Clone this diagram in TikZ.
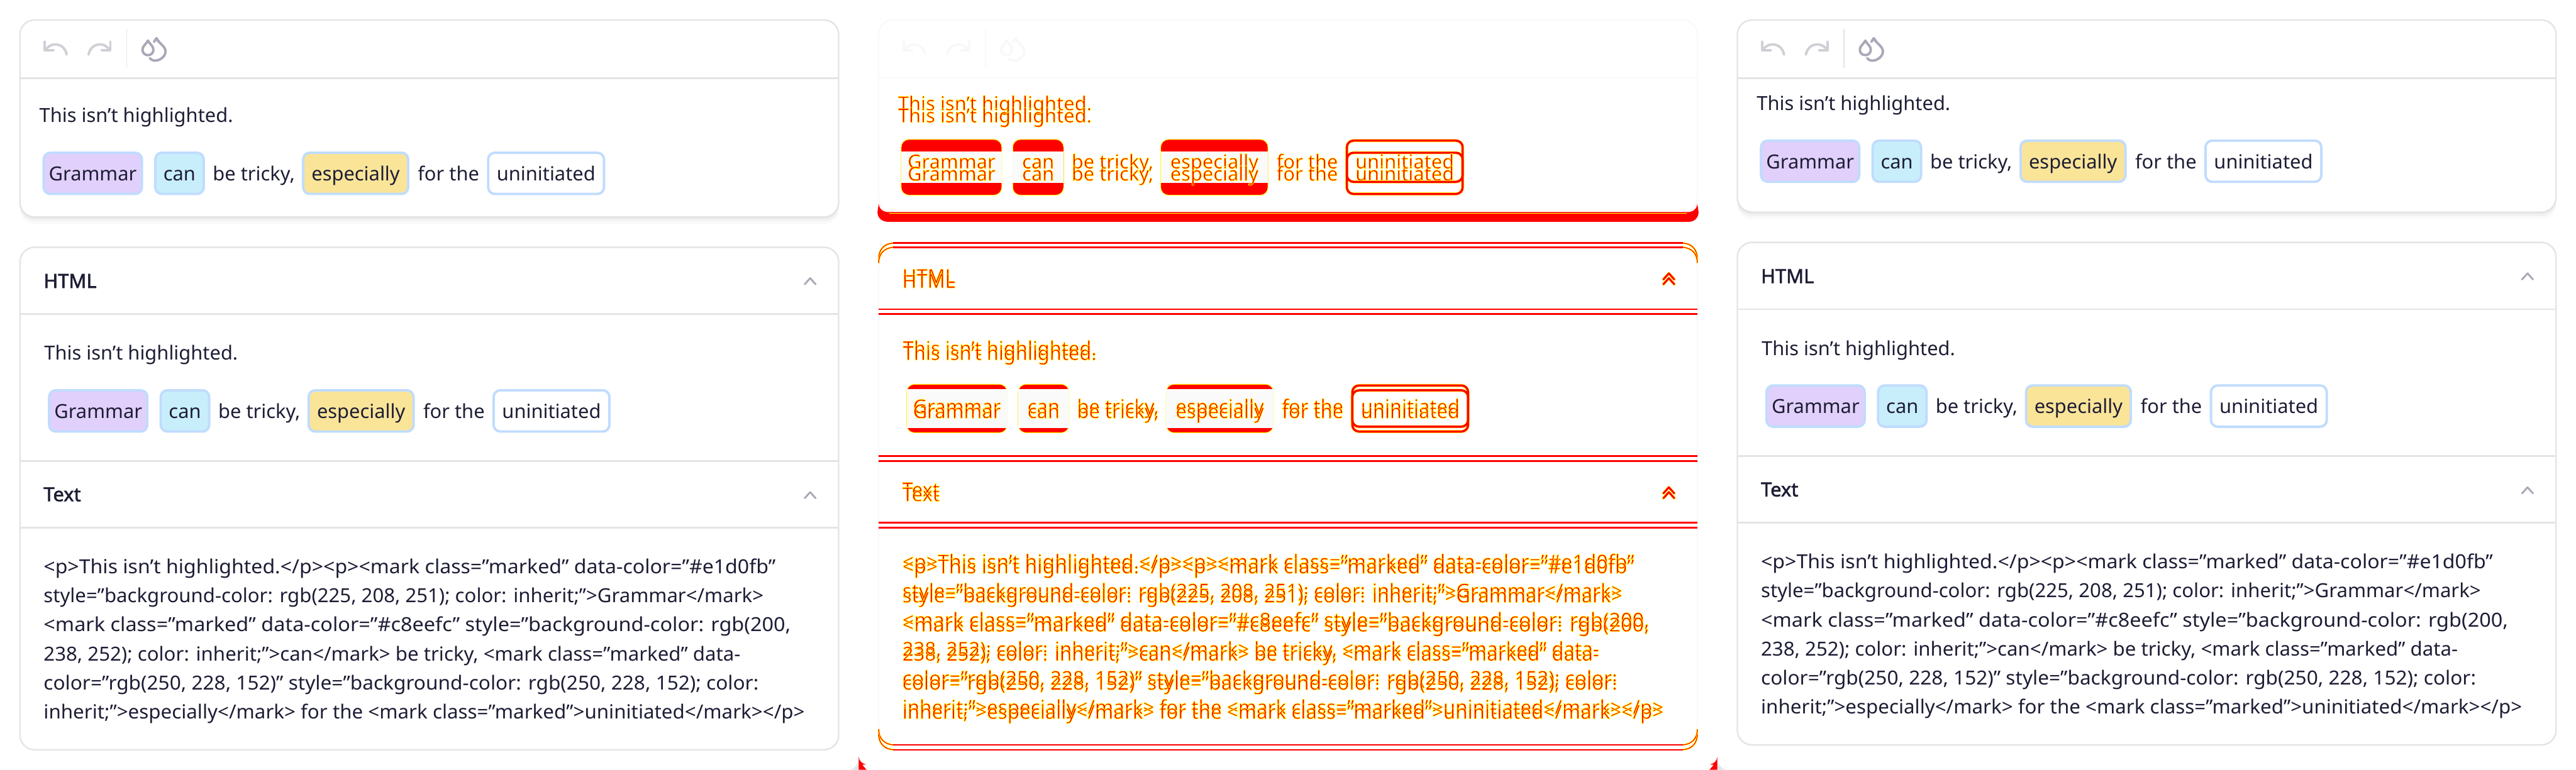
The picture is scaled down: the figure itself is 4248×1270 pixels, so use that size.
\documentclass[tikz,border=0pt]{standalone}
\usepackage{fontspec}
\setmainfont{Noto Sans}
\newfontfamily\headfont[FakeBold=2]{Noto Sans}
\usepackage{xcolor}
\usepackage{graphicx}

\definecolor{inkdark}{HTML}{1D1D35}
\definecolor{cardline}{HTML}{E4E4E6}
\definecolor{markedge}{HTML}{C0DCFE}
\definecolor{markpurple}{HTML}{E1D0FB}
\definecolor{markblue}{HTML}{C8EEFC}
\definecolor{markyellow}{HTML}{FAE498}
\definecolor{iconpale}{HTML}{CFCFD6}
\definecolor{icongrey}{HTML}{A9A8B6}
\definecolor{diffgrey}{HTML}{F8F8F8}
\definecolor{diffred}{HTML}{FF0000}
\definecolor{diffyellow}{HTML}{FFFF00}

\tikzset{
    every node/.style={font=\fontsize{16pt}{24pt}\selectfont, inner sep=0pt, outer sep=0pt},
    plainword/.style={anchor=base west, text=inkdark},
    headword/.style={anchor=base west, text=inkdark, font=\fontsize{16pt}{24pt}\headfont},
    markbox/.style={draw=markedge, line width=2pt, rounded corners=5.5pt, minimum height=34pt,
        text=inkdark, text height=14pt, text depth=2pt},
    cardedge/.style={draw=cardline, line width=1.25pt},
    cardrule/.style={cardline, line width=1.25pt},
    iconline/.style={line width=2pt, line cap=round, line join=round},
    diffword/.style={anchor=base west,
        execute at begin node={\color{diffred}\special{pdf:code 2 Tr 1 1 0 RG 0.42 w}},
        execute at end node={\special{pdf:code 0 Tr}}},
    diffmid/.style={diffword, anchor=base},
    diffhead/.style={diffword, font=\fontsize{16pt}{24pt}\selectfont},
    diffrule/.style={diffred, line width=1.25pt},
    diffchevron/.style={diffred, line width=1.6pt, line cap=round, line join=round},
}

% the six code lines, each set to its measured width
\newcommand{\codelinea}{\resizebox{603.5pt}{\height}{<p>This isn’t highlighted.</p><p><mark class="marked" data-color="\#e1d0fb"}}
\newcommand{\codelineb}{\resizebox{593.5pt}{\height}{style="background-color: rgb(225, 208, 251); color: inherit;">Grammar</mark>}}
\newcommand{\codelinec}{\resizebox{616pt}{\height}{<mark class="marked" data-color="\#c8eefc" style="background-color: rgb(200,}}
\newcommand{\codelined}{\resizebox{574.5pt}{\height}{238, 252); color: inherit;">can</mark> be tricky, <mark class="marked" data-}}
\newcommand{\codelinee}{\resizebox{589.5pt}{\height}{color="rgb(250, 228, 152)" style="background-color: rgb(250, 228, 152); color:}}
\newcommand{\codelinef}{\resizebox{627.5pt}{\height}{inherit;">especially</mark> for the <mark class="marked">uninitiated</mark></p>}}

% toolbar: x shift, undo colour, drop colour, bar colour
\newcommand{\toolicons}[4]{
    \begin{scope}[shift={(#1,0)}]
        \draw[iconline, #2] (74,69) -- (74,83) -- (88,83);
        \draw[iconline, #2] (75,83) .. controls (83,68) and (106,70) .. (110,90);
        \draw[iconline, #2] (182,69) -- (182,83) -- (168,83);
        \draw[iconline, #2] (181,83) .. controls (173,68) and (150,70) .. (146,90);
        \draw[#4, line width=1pt] (209,48) -- (209,112);
        \draw[iconline, #3] (244,67) .. controls (240,74) and (235,76) .. (235,82)
            .. controls (235,94) and (253,94) .. (253,82)
            .. controls (253,76) and (248,74) .. (244,67) -- cycle;
        \draw[iconline, #3] (258,63) .. controls (262,72) and (273,76) .. (273,85)
            .. controls (273,96) and (255,106) .. (247,96);
        \draw[iconline, #3] (254,69) -- (258,63) -- (262,69);
    \end{scope}
}

% one row of marked words at x shift and y shift
\newcommand{\markrow}[3]{
    \begin{scope}[shift={(#2,#3)}]
        \node[markbox, fill=markpurple, minimum width=81pt] (#1gram) at (153,286) {Grammar};
        \node[markbox, fill=markblue, minimum width=40pt] (#1can) at (296,286) {can};
        \node[plainword] (#1tricky) at (351,298) {be tricky,};
        \node[markbox, fill=markyellow, minimum width=86.5pt] (#1espec) at (586.5,286) {especially};
        \node[plainword] (#1forthe) at (689,298) {for the};
        \node[markbox, fill=white, minimum width=95.5pt] (#1unin) at (900.5,286) {uninitiated};
    \end{scope}
}

% whole column: prefix, x shift, first row shift, second card shift
\newcommand{\editorcolumn}[4]{
    \begin{scope}[shift={(#2,0)}]
        % Shadow
        \fill[black, opacity=0.02, rounded corners=12pt] (33,40) rectangle (1383,{370+#4});
        \fill[black, opacity=0.03, rounded corners=12pt] (33,40) rectangle (1383,{365+#4});
        \fill[black, opacity=0.04, rounded corners=12pt] (33,40) rectangle (1383,{361+#4});

        % Editor card
        \draw[cardedge, fill=white, rounded corners=12pt] (33,33) rectangle (1383,{358+#4});
        \draw[cardrule] (33,129) -- (1383,129);
        \node[plainword] (#1intro) at (65,{202+#3}) {This isn’t highlighted.};

        % Output card
        \draw[cardedge, fill=white, rounded corners=12pt] (33,{408+#4}) rectangle (1383,{1237+#4});
        \draw[cardrule] (33,{518+#4}) -- (1383,{518+#4});
        \draw[cardrule] (33,{760.5+#4}) -- (1383,{760.5+#4});
        \draw[cardrule] (33,{870.5+#4}) -- (1383,{870.5+#4});
        \node[headword] (#1html) at (72,{475+#4}) {HTML};
        \node[plainword] (#1introb) at (73,{594+#4}) {This isn’t highlighted.};
        \node[headword] (#1text) at (72,{827+#4}) {Text};

        % Chevrons
        \draw[icongrey, iconline, line width=1.5pt] (1327,{469+#4}) -- (1336,{459+#4}) -- (1345,{469+#4});
        \draw[icongrey, iconline, line width=1.5pt] (1327,{822+#4}) -- (1336,{812+#4}) -- (1345,{822+#4});

        % Code lines
        \node[plainword] (#1codea) at (72,{946+#4}) {\codelinea};
        \node[plainword] (#1codeb) at (72,{994+#4}) {\codelineb};
        \node[plainword] (#1codec) at (72,{1042+#4}) {\codelinec};
        \node[plainword] (#1coded) at (72,{1090+#4}) {\codelined};
        \node[plainword] (#1codee) at (72,{1138+#4}) {\codelinee};
        \node[plainword] (#1codef) at (72,{1186+#4}) {\codelinef};
    \end{scope}
    \toolicons{#2}{iconpale}{icongrey}{cardline}
    \markrow{#1rowa}{#2}{#3}
    \markrow{#1rowb}{#2+9}{392+#4}
}

% diff of one mark: x from, x to, upper top, gap
\newcommand{\diffmark}[4]{
    \fill[diffred, rounded corners=6.5pt] (#1,#3) rectangle (#2,{#3+72+#4});
    \draw[diffyellow, line width=0.5pt, rounded corners=6.5pt] (#1,#3) rectangle (#2,{#3+72+#4});
    \fill[white!98!black] (#1,{#3+#4}) rectangle (#2,{#3+72});
}
\newcommand{\diffbox}[4]{
    \draw[diffyellow, line width=2.4pt, rounded corners=5.5pt] ({#1+2},{#3+2}) rectangle ({#2-2},{#3+70});
    \draw[diffyellow, line width=2.4pt, rounded corners=5.5pt] ({#1+2},{#3+#4+2}) rectangle ({#2-2},{#3+#4+70});
    \draw[diffred, line width=1.8pt, rounded corners=5.5pt] ({#1+2},{#3+2}) rectangle ({#2-2},{#3+70});
    \draw[diffred, line width=1.8pt, rounded corners=5.5pt] ({#1+2},{#3+#4+2}) rectangle ({#2-2},{#3+#4+70});
}
\newcommand{\diffmarks}[3]{
    \begin{scope}[shift={(#1,0)}]
        \diffmark{1486}{1652}{#2}{#3}
        \diffmark{1670}{1754}{#2}{#3}
        \diffmark{1914}{2091}{#2}{#3}
        \diffbox{2219}{2414}{#2}{#3}
    \end{scope}
}
% the words of one row in the diff
\newcommand{\diffwords}[3]{
    \node[diffmid] (#1gram) at ({1416+153+#2},#3) {Grammar};
    \node[diffmid] (#1can) at ({1416+296+#2},#3) {can};
    \node[diffword] (#1tricky) at ({1416+351+#2},#3) {be tricky,};
    \node[diffmid] (#1espec) at ({1416+586.5+#2},#3) {especially};
    \node[diffword] (#1forthe) at ({1416+689+#2},#3) {for the};
    \node[diffmid] (#1unin) at ({1416+900.5+#2},#3) {uninitiated};
}
% code lines in the diff
\newcommand{\diffcode}[2]{
    \node[diffword] (#1codea) at (1488,{946+#2}) {\codelinea};
    \node[diffword] (#1codeb) at (1488,{994+#2}) {\codelineb};
    \node[diffword] (#1codec) at (1488,{1042+#2}) {\codelinec};
    \node[diffword] (#1coded) at (1488,{1090+#2}) {\codelined};
    \node[diffword] (#1codee) at (1488,{1138+#2}) {\codelinee};
    \node[diffword] (#1codef) at (1488,{1186+#2}) {\codelinef};
}
% rounded cap of a card in the diff: y of straight part, direction
\newcommand{\diffcap}[2]{
    \draw[diffyellow, line width=1.4pt] (1449,{#1+#2*26}) .. controls (1449,{#1+#2*10}) and (1459,#1) .. (1475,#1);
    \draw[diffyellow, line width=1.4pt] (2799,{#1+#2*26}) .. controls (2799,{#1+#2*10}) and (2789,#1) .. (2773,#1);
    \draw[diffred, line width=0.6pt] (1449,{#1+#2*26}) .. controls (1449,{#1+#2*10}) and (1459,#1) .. (1475,#1);
    \draw[diffred, line width=0.6pt] (2799,{#1+#2*26}) .. controls (2799,{#1+#2*10}) and (2789,#1) .. (2773,#1);
    \draw[diffrule] (1473,#1) -- (2775,#1);
}

\begin{document}
\begin{tikzpicture}[x=0.5pt, y=-0.5pt]
    \useasboundingbox (0,0) rectangle (4248,1270);

    % Left and right columns
    \editorcolumn{left}{0}{0}{0}
    \editorcolumn{right}{2832}{-20}{-8}

    % Diff column: what stayed the same
    \draw[diffgrey, line width=1pt, rounded corners=12pt] (1449,33) rectangle (2799,350);
    \draw[diffgrey, line width=1pt] (1449,129) -- (2799,129);
    \draw[diffgrey, line width=1pt] (1449,430) -- (1449,1200);
    \draw[diffgrey, line width=1pt] (2799,430) -- (2799,1200);
    \toolicons{1416}{diffgrey}{diffgrey}{diffgrey}

    % Diff column: bottom of the editor card
    \fill[diffred] (1449,336) .. controls (1450,345) and (1456,350) .. (1466,350) -- (2782,350)
        .. controls (2792,350) and (2798,345) .. (2799,336) -- (2801,350)
        .. controls (2801,360) and (2793,366) .. (2785,366) -- (1465,366)
        .. controls (1455,366) and (1447,360) .. (1447,350) -- cycle;
    \draw[diffyellow, line width=0.6pt] (1466,352) -- (2782,352);

    % Diff column: card edges
    \diffcap{401}{1}
    \diffcap{408}{1}
    \diffcap{1229}{-1}
    \diffcap{1237}{-1}
    \draw[diffrule] (1449,510) -- (2799,510);
    \draw[diffrule] (1449,518) -- (2799,518);
    \draw[diffrule] (1449,752.5) -- (2799,752.5);
    \draw[diffrule] (1449,760.5) -- (2799,760.5);
    \draw[diffrule] (1449,862.5) -- (2799,862.5);
    \draw[diffrule] (1449,870.5) -- (2799,870.5);

    % Diff column: marks
    \diffmarks{0}{230}{20}
    \diffmarks{9}{634}{8}

    % Diff column: words
    \node[diffword] (diffintroa) at (1481,182) {This isn’t highlighted.};
    \node[diffword] (diffintrob) at (1481,202) {This isn’t highlighted.};
    \diffwords{diffrowa}{0}{278}
    \diffwords{diffrowb}{0}{298}
    \node[diffhead] (diffhtmla) at (1488,467) {HTML};
    \node[diffhead] (diffhtmlb) at (1488,475) {HTML};
    \node[diffword] (diffintroc) at (1489,586) {This isn’t highlighted.};
    \node[diffword] (diffintrod) at (1489,594) {This isn’t highlighted.};
    \diffwords{diffrowc}{9}{682}
    \diffwords{diffrowd}{9}{690}
    \node[diffhead] (difftexta) at (1488,819) {Text};
    \node[diffhead] (difftextb) at (1488,827) {Text};
    \diffcode{diffa}{-8}
    \diffcode{diffb}{0}

    % Diff column: chevrons
    \draw[diffyellow, line width=2.2pt, line cap=round, line join=round] (2743,461) -- (2752,451) -- (2761,461);
    \draw[diffyellow, line width=2.2pt, line cap=round, line join=round] (2743,469) -- (2752,459) -- (2761,469);
    \draw[diffyellow, line width=2.2pt, line cap=round, line join=round] (2743,814) -- (2752,804) -- (2761,814);
    \draw[diffyellow, line width=2.2pt, line cap=round, line join=round] (2743,822) -- (2752,812) -- (2761,822);
    \draw[diffchevron] (2743,461) -- (2752,451) -- (2761,461);
    \draw[diffchevron] (2743,469) -- (2752,459) -- (2761,469);
    \draw[diffchevron] (2743,814) -- (2752,804) -- (2761,814);
    \draw[diffchevron] (2743,822) -- (2752,812) -- (2761,822);

    % Corner wedges at the foot
    \fill[cardline] (1416,1258) .. controls (1412,1264) and (1408,1268) .. (1403,1270) -- (1416,1270) -- cycle;
    \fill[diffred] (1416,1248) .. controls (1417,1256) and (1422,1261) .. (1429,1261) -- (1422,1262)
        -- (1429,1270) -- (1416,1270) -- cycle;
    \fill[cardline] (2832,1258) .. controls (2836,1264) and (2840,1268) .. (2845,1270) -- (2832,1270) -- cycle;
    \fill[diffred] (2832,1248) .. controls (2831,1256) and (2826,1261) .. (2819,1261) -- (2826,1262)
        -- (2819,1270) -- (2832,1270) -- cycle;
\end{tikzpicture}
\end{document}
